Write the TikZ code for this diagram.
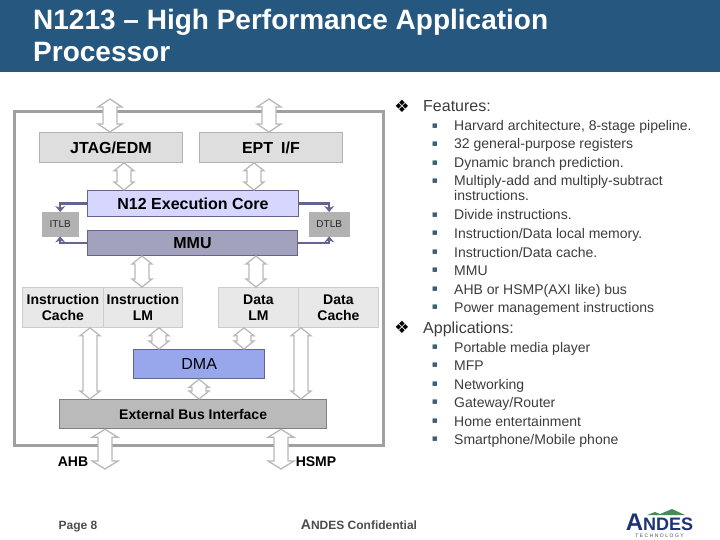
\documentclass[tikz,border=0pt]{standalone}
\usepackage{fontspec}
\setmainfont{Liberation Sans}
\newfontfamily\symfont{DejaVu Sans}
\newfontfamily\widefont[LetterSpace=30]{Liberation Sans}
\usetikzlibrary{calc,arrows.meta}
\definecolor{barcol}{RGB}{37,87,127}
\definecolor{framecol}{RGB}{160,160,160}
\definecolor{buscol}{RGB}{185,185,185}
\definecolor{tlbcol}{RGB}{100,100,145}
\definecolor{txtcol}{RGB}{60,60,60}
\definecolor{dotcol}{RGB}{60,95,120}
\definecolor{logocol}{RGB}{30,50,120}
\definecolor{hillcol}{RGB}{70,140,85}
\definecolor{dmacol}{RGB}{152,166,236}
\tikzset{every picture/.style={x=1pt,y=-1pt}}
\newcommand{\fs}[1]{\fontsize{#1}{#1}\selectfont}
\tikzset{box/.style={draw,rectangle,anchor=north west,inner sep=0pt,text=black,align=center}}
\tikzset{plain/.style={box,fill=black!13,draw=black!30,line width=.8pt,font=\fs{16}\bfseries}}
\tikzset{mem/.style={box,fill=black!9,draw=black!20,line width=.8pt,minimum width=80,minimum height=40,font=\fs{14}\bfseries}}
\tikzset{tlb/.style={box,fill=black!30,draw=black!30,text=black!85,font=\fs{10}}}
\tikzset{link/.style={draw=tlbcol,line width=2.3pt,-{Stealth[length=6pt,width=10pt]}}}
\tikzset{bus/.style={draw=buscol,line width=1.3pt,fill=white,to path={
  let \p1=(\tikztostart),\p2=(\tikztotarget) in
  -- ({\x1+#1*1pt},{\y1-8pt}) -- ({\x1+7pt},{\y1-8pt}) -- ({\x1+7pt},{\y2+8pt}) -- ({\x1+#1*1pt},{\y2+8pt})
  -- (\x1,\y2) -- ({\x1-#1*1pt},{\y2+8pt}) -- ({\x1-7pt},{\y2+8pt}) -- ({\x1-7pt},{\y1-8pt}) -- ({\x1-#1*1pt},{\y1-8pt}) -- cycle}}}
\tikzset{bus/.default=10}
\tikzset{head/.style={anchor=base west,yshift=-6pt,inner sep=0pt,text=txtcol,font=\fs{16}}}
\tikzset{item/.style={anchor=base west,yshift=-5pt,inner sep=0pt,text=txtcol,font=\fs{14}}}
\tikzset{diam/.style={inner sep=0pt,text=black,font=\fs{17}\symfont}}
\tikzset{dot/.style={inner sep=0pt,text=dotcol,font=\fs{9}\symfont}}
\tikzset{tag/.style={inner sep=0pt,text=black,font=\fs{14}\bfseries}}
\tikzset{foot/.style={anchor=base,yshift=-4pt,inner sep=0pt,text=black!70,font=\fs{12}\bfseries}}
\begin{document}
\begin{tikzpicture}
\useasboundingbox (0,0) rectangle (720,540);
\fill [barcol] (0,0) rectangle (720,72);
\node [anchor=north west,inner sep=0pt,text=white,font=\fs{28}\bfseries,align=left] (title) at (33,9) {N1213 -- High Performance Application\\[4pt]Processor};

\draw [framecol,line width=3pt] (14,112) rectangle (383,445);

\node [plain,minimum width=143,minimum height=30] (jtag) at (39,132) {JTAG/EDM};
\node [plain,minimum width=143,minimum height=30] (ept) at (199,132) {EPT\enspace I/F};
\node [box,fill=blue!16,draw=tlbcol,line width=1pt,minimum width=211,minimum height=26,font=\fs{16}\bfseries] (core) at (87,190) {N12 Execution Core};
\node [box,fill=tlbcol!60,draw=tlbcol,line width=1pt,minimum width=210,minimum height=25,font=\fs{16}\bfseries] (mmu) at (87,230) {MMU};
\node [tlb,minimum width=36,minimum height=24] (itlb) at (42,212) {ITLB};
\node [tlb,minimum width=40,minimum height=24] (dtlb) at (309,212) {DTLB};

\node [mem,minimum width=81] (icache) at (22,287) {Instruction\\[2pt]Cache};
\node [mem,minimum width=79] (ilm) at (103,287) {Instruction\\[2pt]LM};
\node [mem] (dlm) at (218,287) {Data\\[2pt]LM};
\node [mem] (dcache) at (298,287) {Data\\[2pt]Cache};

\node [box,fill=dmacol,draw=tlbcol,line width=1.3pt,minimum width=131,minimum height=29,font=\fs{16}] (dma) at (133,349) {DMA};
\node [box,fill=black!27,draw=black!50,line width=1.3pt,minimum width=267,minimum height=29,font=\fs{14}\bfseries] (ebi) at (59,399) {External Bus Interface};

\coordinate (jtagpin) at (110,99);
\coordinate (eptpin) at (269,99);
\coordinate (ahbpin) at (105,469);
\coordinate (hsmppin) at (281,469);
\coordinate (c1) at (124,0);
\coordinate (c2) at (254,0);
\coordinate (c3) at (142,0);
\coordinate (c4) at (256,0);
\coordinate (c5) at (90,0);
\coordinate (c6) at (159,0);
\coordinate (c7) at (244,0);
\coordinate (c8) at (301,0);
\coordinate (c9) at (199,0);

\draw [bus=12] (jtagpin) to (jtagpin |- jtag.north);
\draw [bus=12] (eptpin) to (eptpin |- ept.north);
\draw [bus] (c1 |- jtag.south) to (c1 |- core.north);
\draw [bus] (c2 |- ept.south) to (c2 |- core.north);
\draw [bus] (c3 |- mmu.south) to (c3 |- ilm.north);
\draw [bus] (c4 |- mmu.south) to (c4 |- dlm.north);
\draw [bus] (c5 |- icache.south) to (c5 |- ebi.north);
\draw [bus] (c6 |- ilm.south) to (c6 |- dma.north);
\draw [bus] (c7 |- dlm.south) to (c7 |- dma.north);
\draw [bus] (c8 |- dcache.south) to (c8 |- ebi.north);
\draw [bus] (c9 |- dma.south) to (c9 |- ebi.north);
\draw [bus=13] (ahbpin |- ebi.south) to (ahbpin);
\draw [bus=13] (hsmppin |- ebi.south) to (hsmppin);

\draw [link] (core.west) -| (itlb.north);
\draw [link] (mmu.west) -| (itlb.south);
\draw [link] (core.east) -| (dtlb.north);
\draw [link] (mmu.east) -| (dtlb.south);

\node [tag] (ahb) at (73,462) {AHB};
\node [tag] (hsmp) at (316,462) {HSMP};

\node [diam] (d1) at (402,106) {❖};
\node [head] (features) at (423,106) {Features:};
\node [dot] (b1) at (435,126) {▪};
\node [item] (f1) at (454,126) {Harvard architecture, 8-stage pipeline.};
\node [dot] (b2) at (435,144) {▪};
\node [item] (f2) at (454,144) {32 general-purpose registers};
\node [dot] (b3) at (435,163) {▪};
\node [item] (f3) at (454,163) {Dynamic branch prediction.};
\node [dot] (b4) at (435,181) {▪};
\node [item] (f4) at (454,181) {Multiply-add and multiply-subtract};
\node [item] (f4b) at (454,196) {instructions.};
\node [dot] (b5) at (435,215) {▪};
\node [item] (f5) at (454,215) {Divide instructions.};
\node [dot] (b6) at (435,233) {▪};
\node [item] (f6) at (454,233) {Instruction/Data local memory.};
\node [dot] (b7) at (435,252) {▪};
\node [item] (f7) at (454,252) {Instruction/Data cache.};
\node [dot] (b8) at (435,270) {▪};
\node [item] (f8) at (454,270) {MMU};
\node [dot] (b9) at (435,289) {▪};
\node [item] (f9) at (454,289) {AHB or HSMP(AXI like) bus};
\node [dot] (b10) at (435,307) {▪};
\node [item] (f10) at (454,307) {Power management instructions};

\node [diam] (d2) at (402,327) {❖};
\node [head] (apps) at (423,327) {Applications:};
\node [dot] (b11) at (435,347) {▪};
\node [item] (a1) at (454,347) {Portable media player};
\node [dot] (b12) at (435,365) {▪};
\node [item] (a2) at (454,365) {MFP};
\node [dot] (b13) at (435,384) {▪};
\node [item] (a3) at (454,384) {Networking};
\node [dot] (b14) at (435,402) {▪};
\node [item] (a4) at (454,402) {Gateway/Router};
\node [dot] (b15) at (435,421) {▪};
\node [item] (a5) at (454,421) {Home entertainment};
\node [dot] (b16) at (435,439) {▪};
\node [item] (a6) at (454,439) {Smartphone/Mobile phone};

\node [foot] (page) at (78,525) {Page 8};
\node [foot] (conf) at (359,525) {{\fs{14}A}NDES Confidential};

\fill [hillcol] (647,515) -- (655,512) -- (660,514) -- (672,509) -- (685,515) -- cycle;
\node [anchor=base,inner sep=0pt,text=logocol,font=\fs{18}\bfseries] (logo) at (659.5,530) {{\fs{24}A}NDES};
\node [anchor=base,inner sep=0pt,text=black!70,font=\fs{5}\widefont] (logosub) at (659.5,537) {TECHNOLOGY};
\end{tikzpicture}
\end{document}
